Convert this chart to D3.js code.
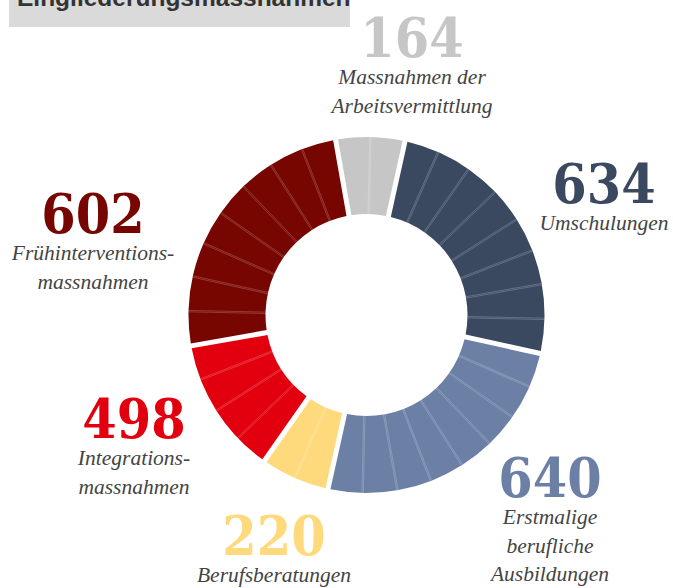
<!DOCTYPE html>
<html><head><meta charset="utf-8">
<script src="https://cdn.jsdelivr.net/npm/d3@7"></script>
<style>
html,body{margin:0;padding:0;background:#fff;}
svg{display:block;}
</style></head>
<body>
<svg id="chart" width="673" height="588"></svg>
<script>
// ---- data ----
const categories = ["Massnahmen der Arbeitsvermittlung","Umschulungen","Erstmalige berufliche Ausbildungen","Berufsberatungen","Integrationsmassnahmen","Frühinterventionsmassnahmen"];
const values = [164, 634, 640, 220, 498, 602];
const pieces = [2, 8, 8, 2, 4, 8];
const labelLines = [
  ["Massnahmen der","Arbeitsvermittlung"],
  ["Umschulungen"],
  ["Erstmalige","berufliche","Ausbildungen"],
  ["Berufsberatungen"],
  ["Integrations-","massnahmen"],
  ["Frühinterventions-","massnahmen"]
];
const title = "Eingliederungsmassnahmen";

// ---- layout / style ----
const colors = ["#c5c6c5","#3b4960","#6c80a6","#ffda7c","#e3000e","#780600"];
const labelPos = [[412,57],[604,203],[550,497],[274,555],[134,438],[93,233]];
const cx = 366.5, cy = 315, rOuter = 178, rInner = 101;
const svg = d3.select("#chart");

// title
svg.append("rect").attr("x",9).attr("y",-10).attr("width",341).attr("height",37).attr("fill","#d9dad9");
svg.append("text").attr("x",17).attr("y",6)
  .attr("font-family","Liberation Sans, Arial, sans-serif").attr("font-weight","bold")
  .attr("font-size",24.5).attr("fill","#333").text(title);

const g = svg.append("g").attr("transform",`translate(${cx},${cy})`);
const start = -10 * Math.PI/180;
const pie = d3.pie().sort(null).value(d=>d).startAngle(start).endAngle(start + 2*Math.PI);
const arcs = pie(pieces);
const gapPx = 5;
const arc = d3.arc().innerRadius(rInner).outerRadius(rOuter).padRadius(rOuter).padAngle(gapPx/rOuter);

g.selectAll("path.seg").data(arcs).join("path").attr("class","seg")
  .attr("d", arc).attr("fill",(d,i)=>colors[i]);

// internal sub-slice lines
arcs.forEach((a,i)=>{
  const s = d3.scaleLinear().domain([0, pieces[i]]).range([a.startAngle, a.endAngle]);
  for (let k=1;k<pieces[i];k++){
    const ang = s(k);
    [-0.7,0.7].forEach(off=>{
      const nx = Math.cos(ang), ny = Math.sin(ang);
      const x1 = Math.sin(ang)*rInner + nx*off, y1 = -Math.cos(ang)*rInner + ny*off;
      const x2 = Math.sin(ang)*rOuter + nx*off, y2 = -Math.cos(ang)*rOuter + ny*off;
      g.append("line").attr("x1",x1).attr("y1",y1).attr("x2",x2).attr("y2",y2)
        .attr("stroke","#fff").attr("stroke-opacity",0.35).attr("stroke-width",0.6);
    });
  }
});

// labels
const lab = svg.append("g");
values.forEach((v,i)=>{
  const [x,y] = labelPos[i];
  lab.append("text").attr("x",x).attr("y",y).attr("text-anchor","middle")
    .attr("font-family","DejaVu Serif Condensed, DejaVu Serif, serif").attr("font-stretch","condensed")
    .attr("font-weight","bold").attr("font-size",55).attr("fill",colors[i]).text(d3.format("d")(v));
  labelLines[i].forEach((t,k)=>{
    lab.append("text").attr("x",x).attr("y",y + 27 + k*28.5).attr("text-anchor","middle")
      .attr("font-family","Liberation Serif, Times New Roman, serif").attr("font-style","italic")
      .attr("font-size",21.5).attr("fill","#444").text(t);
  });
});
</script>
</body></html>
